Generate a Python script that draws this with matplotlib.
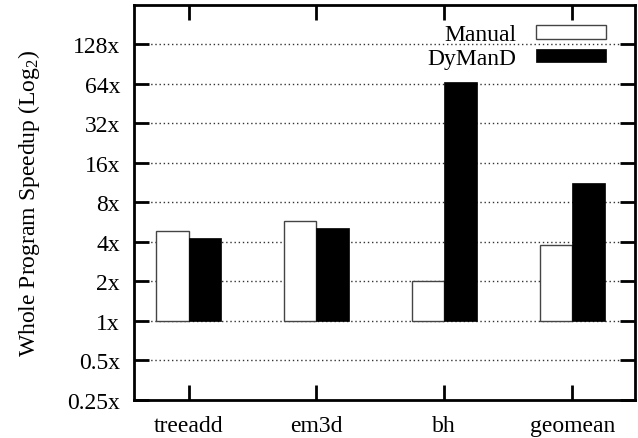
import matplotlib
matplotlib.use('Agg')
import matplotlib.pyplot as plt
import numpy as np

plt.rcParams['font.family'] = ['Liberation Serif', 'DejaVu Serif']
plt.rcParams['mathtext.fontset'] = 'custom'
plt.rcParams['mathtext.rm'] = 'Liberation Serif'
plt.rcParams['mathtext.it'] = 'Liberation Serif:italic'

benchmarks = ['treeadd', 'em3d', 'bh', 'geomean']
manual = [4.84, 5.73, 2.02, 3.82]
dymand = [4.29, 5.13, 66.0, 11.3]
yticks = [0.25, 0.5, 1, 2, 4, 8, 16, 32, 64, 128]
ytick_labels = ['0.25x', '0.5x', '1x', '2x', '4x', '8x', '16x', '32x', '64x', '128x']

fig = plt.figure(figsize=(6.38, 4.39), dpi=100)
ax = fig.add_axes([0.21, 0.0866, 0.785, 0.9])

x = np.arange(len(benchmarks))
w = 0.254
m = [v - 1 for v in manual]
d = [v - 1 for v in dymand]
ax.bar(x - w / 2, m, w, bottom=1, color='white', edgecolor='#444444', linewidth=1.0,
       label='Manual', zorder=3)
ax.bar(x + w / 2, d, w, bottom=1, color='black', edgecolor='black', linewidth=0.5,
       label='DyManD', zorder=3)

ax.set_yscale('log', base=2)
ax.set_ylim(0.25, 256)
ax.set_xlim(-0.427, 3.49)
ax.set_yticks(yticks)
ax.set_yticklabels(ytick_labels)
ax.minorticks_off()
ax.set_xticks(x)
ax.set_xticklabels(benchmarks)

for v in yticks[1:]:
    ax.axhline(v, color='#333333', linestyle=(0, (1, 2)), linewidth=1.0, zorder=1)

for s in ax.spines.values():
    s.set_linewidth(2.0)
ax.tick_params(axis='both', which='major', direction='in', length=10.5, width=2.0,
               labelsize=17, top=True, right=True)
ax.tick_params(axis='y', pad=10)
ax.tick_params(axis='x', pad=11)

ax.set_ylabel('Whole Program Speedup (Log$_2$)', fontsize=17, labelpad=18)

leg = ax.legend(loc='upper right', frameon=False, fontsize=17, markerfirst=False,
                handlelength=3.0, handleheight=0.5, handletextpad=0.8,
                labelspacing=0.12, borderaxespad=0.0, bbox_to_anchor=(0.962, 0.975))

fig.savefig('out.png', dpi=100)
